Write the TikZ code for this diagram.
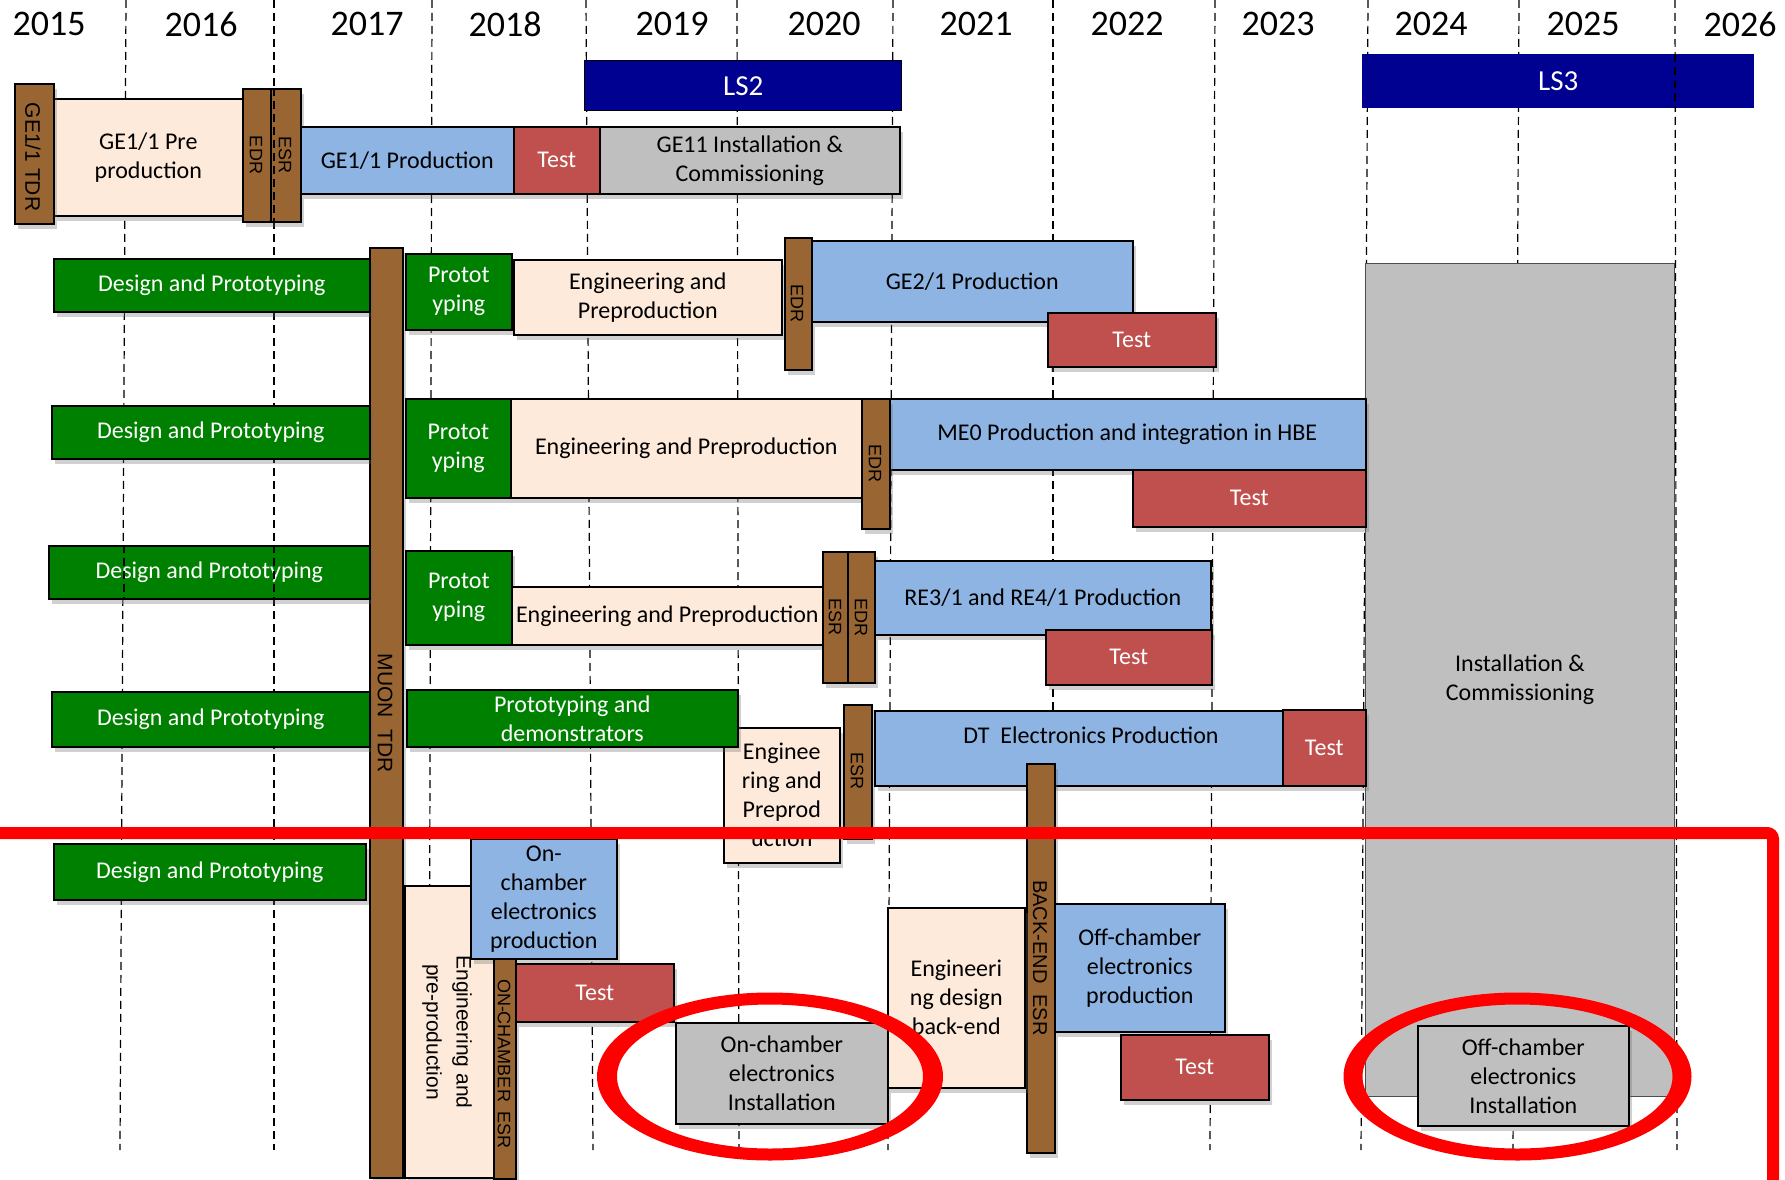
\documentclass[tikz,border=0pt]{standalone}
\usepackage{fontspec}
\setmainfont{Carlito}
\newfontfamily\vfont{Liberation Sans}
\usetikzlibrary{shadows}
\definecolor{brn}{RGB}{153,102,51}
\definecolor{peach}{RGB}{253,234,218}
\definecolor{lblue}{RGB}{141,180,226}
\definecolor{tred}{RGB}{192,80,77}
\definecolor{lgray}{RGB}{191,191,191}
\definecolor{dgreen}{RGB}{0,128,0}
\definecolor{navy}{RGB}{0,0,145}
\newcommand{\boxfont}{\fontsize{24}{29}\selectfont}
\newcommand{\gbox}[7]{\node[#2, minimum width={(#5)-(#3)}, minimum height={(#6)-(#4)}] (#1) at (#3,#4) {#7};}
\begin{document}
\begin{tikzpicture}[x=1pt,y=-1pt,
  bx/.style={draw=black, line width=1.6pt, inner sep=0pt, align=center, anchor=north west,
    drop shadow={shadow xshift=3pt,shadow yshift=-5pt,opacity=0.3,fill=black!60}, font=\boxfont},
  brnbox/.style={bx, fill=brn},
  pch/.style={bx, fill=peach, text=black},
  blu/.style={bx, fill=lblue, text=black},
  tst/.style={bx, fill=tred, text=white},
  gry/.style={bx, fill=lgray, text=black},
  grn/.style={bx, fill=dgreen, text=white},
  vlab/.style={rotate=-90, inner sep=0pt, align=center, font=\vfont\fontsize{#1}{30}\selectfont},
  yr/.style={font=\fontsize{36}{40}\selectfont, inner sep=0pt},
  gridline/.style={dash pattern=on 8pt off 5pt, line width=1.2pt, black}
]
\useasboundingbox[fill=white] (0,0) rectangle (1785,1180);

% year grid lines
\foreach \a/\b in {126/120,274/274,432/429,586/593,737/739,893/888,1053/1053,1215/1210,1368/1361,1519/1513,1675/1677}
  \draw[gridline] (\a,0) -- (\b,1150);

% year labels
\foreach \n/\x in {2015/49,2016/201,2017/367,2018/505,2019/672,2020/824,2021/976,2022/1127,2023/1278,2024/1431,2025/1583,2026/1740}
  \node[yr] (y\n) at (\x,24) {\n};

% long shutdowns
\node[fill=navy, draw=black, line width=1.4pt, anchor=north west, minimum width=317, minimum height=50, inner sep=0pt, text=white, font=\fontsize{29}{33}\selectfont] (ls2) at (584,60) {LS2};
\node[fill=navy, anchor=north west, minimum width=392, minimum height=54, inner sep=0pt, text=white, font=\fontsize{29}{33}\selectfont] (ls3) at (1362,54) {LS3};

% big installation box
\node[fill=lgray, draw=black!70, line width=1pt, anchor=north west, minimum width=309, minimum height=833, inner sep=0pt, align=center, font=\boxfont] (bigInst) at (1365,263) {Installation \&\\Commissioning};

% Row GE1/1
\gbox{pre1}{pch}{53}{98}{242}{215}{GE1/1 Pre\\production}
\gbox{tdr1}{brnbox}{14}{83}{53}{223}{}
\gbox{edr1}{brnbox}{242}{88}{270}{221}{}
\gbox{esr1}{brnbox}{270}{88}{300}{221}{}
\gbox{prod1}{blu}{300}{126}{513}{193}{GE1/1 Production}
\gbox{test1}{tst}{513}{126}{599}{193}{Test}
\gbox{inst1}{gry}{599}{126}{899}{193}{GE11 Installation \&\\Commissioning}
\node[vlab=21] (tdr1t) at (33,157) {GE1/1 TDR};
\node[vlab=18] (edr1t) at (256,155) {EDR};
\node[vlab=18] (esr1t) at (285,155) {ESR};

% Muon TDR bar
\gbox{muon}{brnbox}{369}{247}{402}{1177}{}
\node[vlab=21] (muont) at (385,713) {MUON\ \ TDR};

% Row GE2/1
\gbox{des2}{grn}{53}{258}{369}{311}{Design and Prototyping}
\gbox{proto2}{grn}{405}{253}{511}{329}{Protot\\yping}
\gbox{eng2}{pch}{513}{259}{781}{334}{Engineering and\\Preproduction}
\gbox{edr2}{brnbox}{784}{237}{811}{369}{}
\node[vlab=18] (edr2t) at (797,303) {EDR};
\gbox{prod2}{blu}{811}{240}{1132}{321}{GE2/1 Production}
\gbox{test2}{tst}{1047}{312}{1215}{366}{Test}

% Row ME0
\gbox{des3}{grn}{51}{405}{369}{458}{Design and Prototyping}
\gbox{proto3}{grn}{405}{398}{510}{497}{Protot\\yping}
\gbox{eng3}{pch}{510}{398}{861}{497}{Engineering and Preproduction}
\gbox{prod3}{blu}{888}{398}{1365}{469}{ME0 Production and integration in HBE}
\gbox{edr3}{brnbox}{861}{398}{889}{528}{}
\node[vlab=18] (edr3t) at (875,463) {EDR};
\gbox{test3}{tst}{1132}{469}{1365}{526}{Test}

% Row RE3/1
\gbox{des4}{grn}{48}{545}{369}{598}{Design and Prototyping}
\gbox{proto4}{grn}{405}{550}{511}{644}{Protot\\yping}
\gbox{eng4}{pch}{511}{586}{822}{644}{Engineering and Preproduction}
\gbox{esr4}{brnbox}{822}{551}{847}{682}{}
\gbox{edr4}{brnbox}{847}{551}{874}{682}{}
\node[vlab=18] (esr4t) at (835,617) {ESR};
\node[vlab=18] (edr4t) at (861,617) {EDR};
\gbox{prod4}{blu}{874}{560}{1210}{634}{RE3/1 and RE4/1 Production}
\gbox{test4}{tst}{1045}{629}{1211}{684}{Test}

% Row DT
\gbox{des5}{grn}{51}{691}{369}{746}{Design and Prototyping}
\gbox{eng5}{pch}{723}{727}{839}{862}{Enginee\\ring and\\Preprod\\uction}
\gbox{proto5}{grn}{406}{689}{737}{746}{Prototyping and\\demonstrators}
\gbox{esr5}{brnbox}{843}{704}{871}{838}{}
\node[vlab=18] (esr5t) at (857,771) {ESR};
\gbox{prod5}{blu}{874}{710}{1282}{785}{}
\node[font=\boxfont, inner sep=0pt] (prod5t) at (1091,735) {DT\ \ Electronics Production};
\gbox{test5}{tst}{1282}{709}{1365}{785}{Test}
\gbox{bkesr}{brnbox}{1026}{763}{1054}{1152}{}
\node[vlab=20] (bkesrt) at (1040,958) {BACK-END\ \ ESR};

% Row electronics
\gbox{des6}{grn}{53}{843}{365}{899}{Design and Prototyping}
\gbox{engv}{pch}{404}{885}{493}{1177}{}
\node[vlab=21] (engvt) at (447,1032) {Engineering and\\pre-production};
\gbox{onprod}{blu}{470}{838}{616}{958}{On-\\chamber\\electronics\\production}
\gbox{onesr}{brnbox}{493}{958}{515}{1178}{}
\node[vlab=18] (onesrt) at (504,1064) {ON-CHAMBER\ \ ESR};
\gbox{test6}{tst}{515}{963}{673}{1021}{Test}
\gbox{oninst}{gry}{675}{1022}{887}{1123}{On-chamber\\electronics\\Installation}
\gbox{engbe}{pch}{887}{907}{1024}{1087}{Engineeri\\ng design\\back-end}
\gbox{offprod}{blu}{1054}{903}{1224}{1031}{Off-chamber\\electronics\\production}
\gbox{test7}{tst}{1120}{1034}{1268}{1099}{Test}
\gbox{offinst}{gry}{1417}{1025}{1628}{1125}{Off-chamber\\electronics\\Installation}

% grid lines visible on top of some boxes
\draw[gridline] (124,545) -- (124,598);
\draw[gridline] (274,545) -- (274,598);
\draw[gridline] (274,88) -- (274,221);
\draw[gridline] (1675,54) -- (1675,108);

% red highlight
\coordinate (redA) at (-5,833);
\coordinate (redB) at (1773,833);
\coordinate (redC) at (1773,1190);
\draw[red, line width=12pt, rounded corners=6pt] (redA) -- (redB) -- (redC);
\fill[red, even odd rule] (770,1076.5) ellipse [x radius=173, y radius=84] (770,1076.5) ellipse [x radius=153, y radius=72];
\fill[red, even odd rule] (1517.5,1076.5) ellipse [x radius=174, y radius=84] (1517.5,1076.5) ellipse [x radius=155, y radius=72];
\end{tikzpicture}
\end{document}
